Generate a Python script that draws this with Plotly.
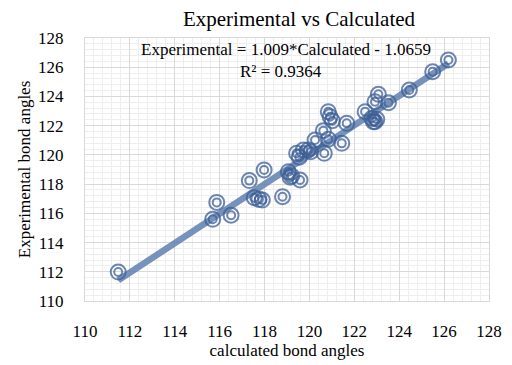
import plotly.graph_objects as go

calculated = [111.48, 115.87, 115.69, 116.51, 117.32, 117.98, 117.54, 117.75, 117.90, 118.80,
              119.06, 119.21, 119.14, 119.58, 119.43, 119.55, 119.73, 119.95, 120.06, 120.25,
              120.62, 120.84, 120.66, 121.44, 121.66, 120.84, 120.92, 121.02, 122.48, 122.78,
              122.92, 122.92, 123.07, 123.52, 122.85, 123.00, 124.45, 125.49, 126.19]
experimental = [111.98, 116.75, 115.59, 115.87, 118.24, 118.97, 117.07, 116.96, 116.91, 117.14,
                118.85, 118.56, 118.47, 118.28, 120.11, 119.84, 120.34, 120.34, 120.22, 121.02,
                121.66, 121.07, 120.11, 120.79, 122.16, 122.96, 122.61, 122.34, 122.96, 122.50,
                122.27, 123.64, 124.15, 123.57, 122.27, 122.44, 124.44, 125.69, 126.50]

slope, intercept = 1.009, -1.0659
trend_x = [min(calculated), max(calculated)]
trend_y = [slope * v + intercept for v in trend_x]

ticks = list(range(110, 129, 2))
mark_color = "rgba(60,95,150,0.75)"
serif = "Liberation Serif, Times New Roman, serif"

fig = go.Figure()
fig.add_trace(go.Scatter(x=trend_x, y=trend_y, mode="lines",
                         line=dict(color="rgba(95,128,175,0.85)", width=6.5), hoverinfo="skip"))
fig.add_trace(go.Scatter(x=calculated, y=experimental, mode="markers",
                         marker=dict(symbol="circle-open", size=15, color=mark_color,
                                     line=dict(width=2, color=mark_color))))
fig.add_trace(go.Scatter(x=calculated, y=experimental, mode="markers",
                         marker=dict(symbol="circle-open", size=8, color=mark_color,
                                     line=dict(width=2, color=mark_color))))

axis_common = dict(
    range=[110, 128], tickvals=ticks, ticktext=[str(t) for t in ticks],
    showgrid=True, gridcolor="#d9d9d9", gridwidth=1,
    minor=dict(dtick=0.4, showgrid=True, gridcolor="#eeeeee", gridwidth=1),
    showline=True, linecolor="#d9d9d9", linewidth=1, mirror=True,
    zeroline=False, ticks="outside", tickcolor="rgba(0,0,0,0)",
    tickfont=dict(family=serif, size=17, color="black"),
    automargin=False,
)

fig.update_layout(
    width=512, height=365,
    margin=dict(l=85, r=23, t=38, b=64),
    paper_bgcolor="white", plot_bgcolor="white",
    showlegend=False,
    font=dict(family=serif, color="black"),
    title=dict(text="Experimental vs Calculated", x=299 / 512, xanchor="center",
               y=1 - 19 / 365, yanchor="middle", font=dict(family=serif, size=21, color="black")),
    xaxis=dict(**axis_common, ticklen=15,
               title=dict(text="calculated bond angles", font=dict(family=serif, size=17), standoff=1)),
    yaxis=dict(**axis_common, ticklen=17,
               title=dict(text="Experimental bond angles", font=dict(family=serif, size=17), standoff=3)),
)

fig.add_annotation(xref="paper", yref="paper", x=(286 - 85) / 404, y=(301 - 49) / 263,
                   text="Experimental = 1.009*Calculated - 1.0659", showarrow=False,
                   font=dict(family=serif, size=17, color="black"), xanchor="center", yanchor="middle")
fig.add_annotation(xref="paper", yref="paper", x=(281 - 85) / 404, y=(301 - 71) / 263,
                   text="R² = 0.9364", showarrow=False,
                   font=dict(family=serif, size=17, color="black"), xanchor="center", yanchor="middle")

fig.write_html("out.html", config={"displayModeBar": False},
               post_script="document.body.style.margin='0';")
